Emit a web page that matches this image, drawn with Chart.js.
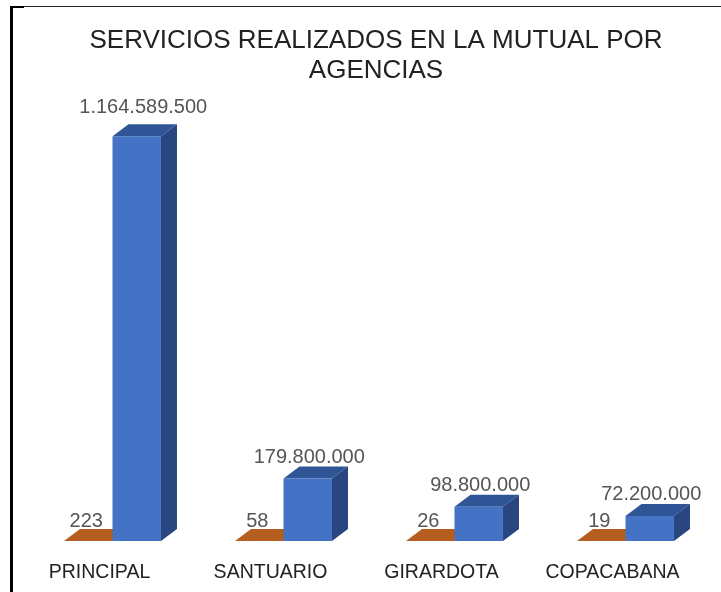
<!DOCTYPE html>
<html>
<head>
<meta charset="utf-8">
<style>
html,body{margin:0;padding:0;background:#fff;width:721px;height:592px;overflow:hidden}
#wrap{position:relative;width:721px;height:592px}
canvas{position:absolute;left:0;top:0;filter:blur(0.45px)}
#frame{position:absolute;left:10px;top:6px;right:0;bottom:0;border-left:3px solid #000;border-top:1px solid #222;pointer-events:none}
#corner{position:absolute;left:10px;top:6px;width:14px;height:2px;background:#000}
</style>
<script src="https://cdn.jsdelivr.net/npm/chart.js@4"></script>
</head>
<body>
<div id="wrap"><canvas id="c" width="721" height="592"></canvas><div id="frame"></div><div id="corner"></div></div>
<script>
const categories = ['PRINCIPAL', 'SANTUARIO', 'GIRARDOTA', 'COPACABANA'];
const serviciosCount = [223, 58, 26, 19];
const serviciosValue = [1164589500, 179800000, 98800000, 72200000];
const titleLines = ['SERVICIOS REALIZADOS EN LA MUTUAL POR', 'AGENCIAS'];
const countLabels = ['223', '58', '26', '19'];
const valueLabels = ['1.164.589.500', '179.800.000', '98.800.000', '72.200.000'];

const DX = 16, DY = 12;
const FONT = '"Liberation Sans", Arial, sans-serif';

function poly(ctx, pts, color) {
  ctx.beginPath();
  pts.forEach((p, i) => i ? ctx.lineTo(p[0], p[1]) : ctx.moveTo(p[0], p[1]));
  ctx.closePath();
  ctx.fillStyle = color;
  ctx.fill();
}

const bars3d = {
  id: 'bars3d',
  afterLayout(chart) {
    if (chart.titleBlock) chart.titleBlock.left += 14;
  },
  beforeDatasetsDraw(chart) {
    const ctx = chart.ctx;
    ctx.save();
    chart.getDatasetMeta(0).data.forEach(b => {
      const l = b.x - b.width / 2, r = b.x + b.width / 2, t = b.y;
      poly(ctx, [[l, t], [r, t], [r + DX, t - DY], [l + DX, t - DY]], '#b55e1f');
    });
    chart.getDatasetMeta(1).data.forEach(b => {
      const l = b.x - b.width / 2, r = b.x + b.width / 2, t = b.y, o = b.base;
      poly(ctx, [[l, t], [r, t], [r + DX, t - DY], [l + DX, t - DY]], '#2f5597');
      poly(ctx, [[r, t], [r + DX, t - DY], [r + DX, o - DY], [r, o]], '#294680');
    });
    ctx.restore();
  },
  afterDatasetsDraw(chart) {
    const ctx = chart.ctx;
    ctx.save();
    ctx.fillStyle = '#555555';
    ctx.font = '20px ' + FONT;
    ctx.textAlign = 'center';
    ctx.textBaseline = 'middle';
    chart.getDatasetMeta(0).data.forEach((b, i) => {
      ctx.fillText(countLabels[i], b.x - 2, b.y - DY - 8);
    });
    chart.getDatasetMeta(1).data.forEach((b, i) => {
      const lift = i === 0 ? 17 : 9;
      const shift = i === 0 ? 6.5 : 1.5;
      ctx.fillText(valueLabels[i], b.x + shift, b.y - DY - lift);
    });
    ctx.restore();
  }
};

new Chart(document.getElementById('c'), {
  type: 'bar',
  data: {
    labels: categories,
    datasets: [
      { label: 'Servicios', data: serviciosCount, backgroundColor: '#b55e1f', borderWidth: 0 },
      { label: 'Valor', data: serviciosValue, backgroundColor: '#4472c4', borderWidth: 0 }
    ]
  },
  options: {
    responsive: false,
    animation: false,
    devicePixelRatio: 1,
    layout: { padding: { left: 27, right: 10, top: 26, bottom: 0 } },
    datasets: { bar: { categoryPercentage: 0.567, barPercentage: 1 } },
    plugins: {
      legend: { display: false },
      tooltip: { enabled: false },
      title: {
        display: true,
        text: titleLines,
        color: '#222222',
        font: { family: FONT, size: 26, weight: 'normal', lineHeight: 1.154 },
        padding: { top: 0, bottom: 38 }
      }
    },
    scales: {
      y: { display: false, min: 0, max: 1200000000 },
      x: {
        afterFit(scale) { scale.height = 51; },
        grid: { display: false, drawTicks: false },
        border: { display: false },
        ticks: {
          color: '#222222',
          font: { family: FONT, size: 19.5 },
          padding: 20,
          labelOffset: -13,
          maxRotation: 0,
          autoSkip: false
        }
      }
    }
  },
  plugins: [bars3d]
});
</script>
</body>
</html>
